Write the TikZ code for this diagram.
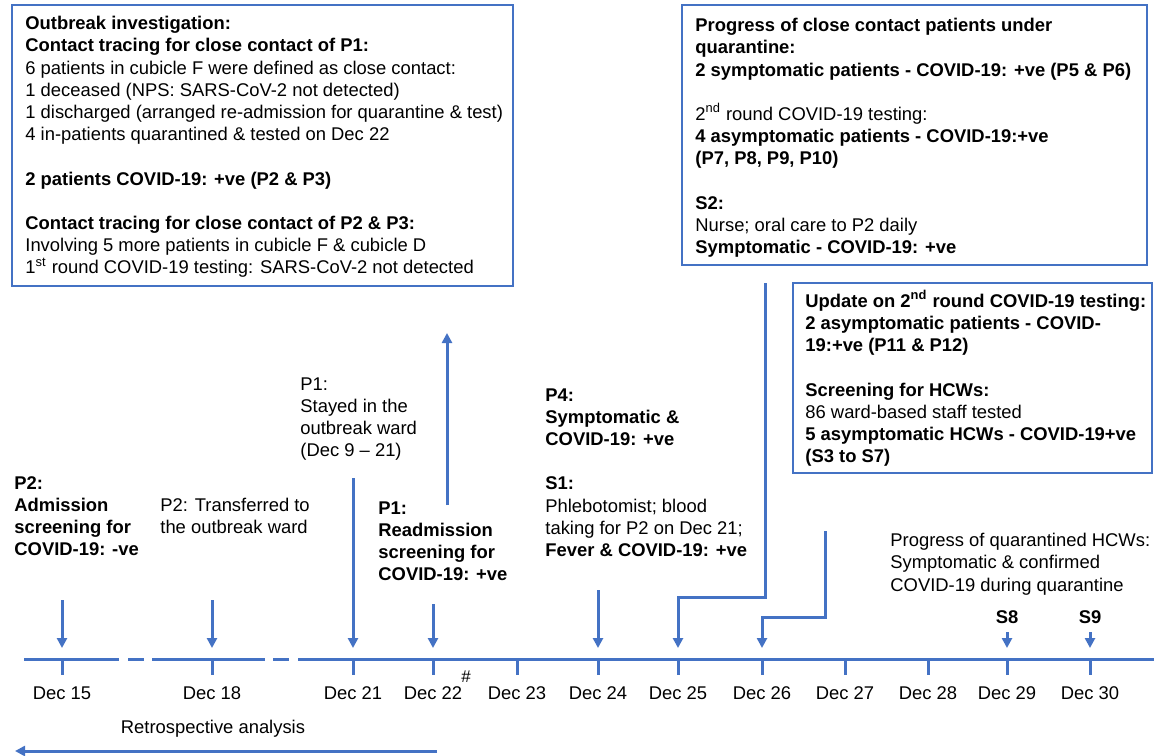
\documentclass[tikz,border=0pt]{standalone}
\usepackage{fontspec}
\setmainfont{Liberation Sans}
\usetikzlibrary{arrows.meta}
\definecolor{tlblue}{RGB}{68,114,196}
\tikzset{
  txt/.style={anchor=north west,inner sep=0pt,align=left,font=\fontsize{9.2}{11.1}\selectfont},
  date/.style={inner sep=0pt,font=\fontsize{9.2}{11.1}\selectfont},
  frame/.style={draw=tlblue,line width=0.8pt},
  axis/.style={draw=tlblue,line width=1.5pt},
  evt/.style={draw=tlblue,line width=1.5pt,-{Triangle[width=5pt,length=5pt]}}
}

\begin{document}
\begin{tikzpicture}[x=0.5pt,y=-0.5pt]
  \useasboundingbox (0,0) rectangle (1154,755);

  \draw[frame] (12,5) rectangle (513,286);
  \node[txt] (invest) at (25,16) {\textbf{Outbreak investigation:}\\
    \textbf{Contact tracing for close contact of P1:}\\
    6 patients in cubicle F were defined as close contact:\\
    1 deceased (NPS: SARS-CoV-2 not detected)\\
    1 discharged (arranged re-admission for quarantine \& test)\\
    4 in-patients quarantined \& tested on Dec 22\\[11.1pt]
    \textbf{2 patients COVID-19: +ve (P2 \& P3)}\\[11.1pt]
    \textbf{Contact tracing for close contact of P2 \& P3:}\\
    Involving 5 more patients in cubicle F \& cubicle D\\
    1\textsuperscript{st} round COVID-19 testing: SARS-CoV-2 not detected};

  \draw[frame] (682,5) rectangle (1147,265);
  \node[txt] (quarantine) at (695,18) {\textbf{Progress of close contact patients under}\\
    \textbf{quarantine:}\\
    \textbf{2 symptomatic patients - COVID-19: +ve (P5 \& P6)}\\[11.1pt]
    2\textsuperscript{nd} round COVID-19 testing:\\
    \textbf{4 asymptomatic patients - COVID-19:+ve}\\
    \textbf{(P7, P8, P9, P10)}\\[11.1pt]
    \textbf{S2:}\\
    Nurse; oral care to P2 daily\\
    \textbf{Symptomatic - COVID-19: +ve}};

  \draw[frame] (793,283) rectangle (1152,473);
  \node[txt] (update) at (805,290) {\textbf{Update on 2\textsuperscript{nd} round COVID-19 testing:}\\
    \textbf{2 asymptomatic patients - COVID-}\\
    \textbf{19:+ve (P11 \& P12)}\\[11.1pt]
    \textbf{Screening for HCWs:}\\
    86 ward-based staff tested\\
    \textbf{5 asymptomatic HCWs - COVID-19+ve}\\
    \textbf{(S3 to S7)}};

  \node[txt] (p2adm) at (14,476) {\textbf{P2:}\\ \textbf{Admission}\\ \textbf{screening for}\\ \textbf{COVID-19: -ve}};
  \node[txt] (p2trans) at (160,498) {P2: Transferred to\\ the outbreak ward};
  \node[txt] (p1stay) at (300,377) {P1:\\ Stayed in the\\ outbreak ward\\ (Dec 9 -- 21)};
  \node[txt] (p1readm) at (378,501) {\textbf{P1:}\\ \textbf{Readmission}\\ \textbf{screening for}\\ \textbf{COVID-19: +ve}};
  \node[txt] (p4s1) at (545,388) {\textbf{P4:}\\ \textbf{Symptomatic \&}\\ \textbf{COVID-19: +ve}\\[11.1pt]
    \textbf{S1:}\\ Phlebotomist; blood\\ taking for P2 on Dec 21;\\ \textbf{Fever \& COVID-19: +ve}};
  \node[txt] (hcwq) at (890,533) {Progress of quarantined HCWs:\\ Symptomatic \& confirmed\\ COVID-19 during quarantine};
  \node[date,font=\fontsize{9.2}{11.1}\selectfont\bfseries] (s8) at (1007,617) {S8};
  \node[date,font=\fontsize{9.2}{11.1}\selectfont\bfseries] (s9) at (1090,617) {S9};

  % timeline
  \foreach \a/\b in {24/119,128/144,152/265,273/289,298/1154}
    \draw[axis] (\a,659) -- (\b,659);
  \foreach \d/\x in {15/62,18/212,21/353,22/433,23/517,24/598,25/678,26/762,27/845,28/928,29/1007,30/1090} {
    \draw[axis] (\x,659) -- (\x,675);
    \coordinate (e\d) at (\x,648);
    \node[date] (d\d) at (\x,693) {Dec \d};
  }
  \node[date,font=\fontsize{8.5}{10}\selectfont] (hash) at (466,677) {\#};

  \foreach \d/\x/\y in {15/62/600,18/212/600,21/353/478,22/433/604,24/598/590,29/1007/632,30/1090/632} {
    \coordinate (s\d) at (\x,\y);
    \draw[evt] (s\d) -- (e\d);
  }
  \coordinate (qdrop) at (765,283);
  \coordinate (udrop) at (825,531);
  \draw[evt] (qdrop) |- (678,597) -- (e25);
  \draw[evt] (udrop) |- (762,617) -- (e26);

  \coordinate (upfrom) at (447,505);
  \coordinate (upto) at (447,333);
  \draw[evt] (upfrom) -- (upto);

  \node[date] (retro) at (213,729) {Retrospective analysis};
  \coordinate (rfrom) at (437,751);
  \coordinate (rto) at (15,751);
  \draw[evt] (rfrom) -- (rto);
\end{tikzpicture}
\end{document}
